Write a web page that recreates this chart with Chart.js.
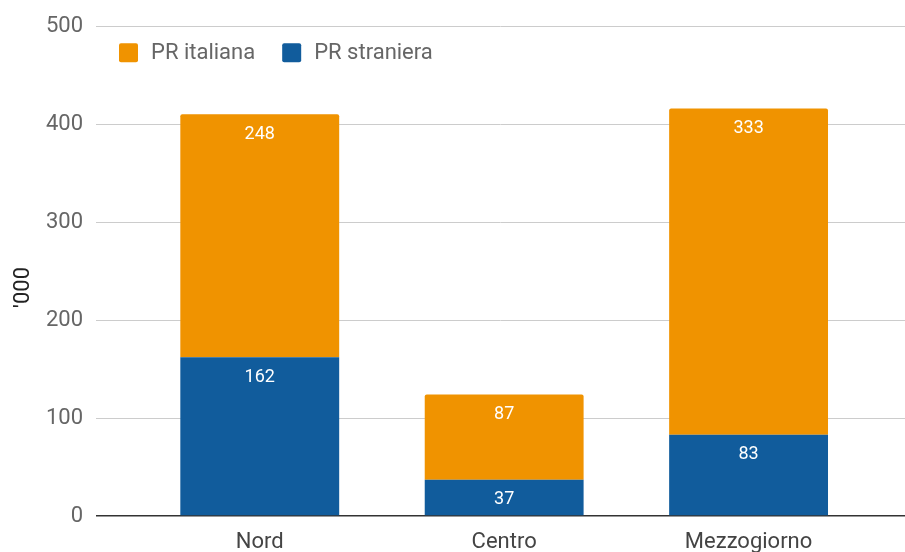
<!DOCTYPE html>
<html>
<head>
<meta charset="utf-8">
<script src="https://cdn.jsdelivr.net/npm/chart.js@4.4.0/dist/chart.umd.min.js"></script>
<style>
  body { margin: 0; background: #fff; }
  #wrap { width: 905px; height: 552px; }
</style>
</head>
<body>
<div id="wrap"><canvas id="chart" width="905" height="552"></canvas></div>
<script>
// values in thousands
const categories = ["Nord", "Centro", "Mezzogiorno"];
const prStraniera = [162, 37, 83];
const prItaliana = [248, 87, 333];
const legendOrder = ["PR italiana", "PR straniera"];
const yMax = 500;
const yStep = 100;

// bars sit on a linear x scale so the plot can extend past the outer categories
const toPoints = (arr) => arr.map((v, i) => ({ x: i, y: v }));

const segmentLabels = {
  id: "segmentLabels",
  afterDatasetsDraw(chart) {
    const ctx = chart.ctx;
    ctx.save();
    ctx.fillStyle = "#fff";
    ctx.font = "18px Roboto";
    ctx.textAlign = "center";
    ctx.textBaseline = "middle";
    chart.data.datasets.forEach((ds, di) => {
      chart.getDatasetMeta(di).data.forEach((bar, i) => {
        ctx.fillText(ds.data[i].y, bar.x, bar.y + 20);
      });
    });
    ctx.restore();
  }
};

// legend drawn inside the plot, one row, like the original
const insideLegend = {
  id: "insideLegend",
  afterDraw(chart) {
    const ctx = chart.ctx;
    const area = chart.chartArea;
    ctx.save();
    ctx.font = "22px Roboto";
    ctx.textBaseline = "middle";
    ctx.textAlign = "left";
    let x = area.left + 23;
    const y = area.top + 17;
    legendOrder.forEach((name) => {
      const ds = chart.data.datasets.find((d) => d.label === name);
      ctx.fillStyle = ds.backgroundColor;
      ctx.beginPath();
      ctx.roundRect(x, y, 19, 19, 2);
      ctx.fill();
      ctx.fillStyle = "#666";
      ctx.fillText(name, x + 32, y + 10);
      x += 32 + ctx.measureText(name).width + 27;
    });
    ctx.restore();
  }
};

const ctx = document.getElementById("chart").getContext("2d");
new Chart(ctx, {
  type: "bar",
  data: {
    datasets: [
      {
        label: "PR straniera",
        data: toPoints(prStraniera),
        backgroundColor: "#115c9c",
        borderRadius: 2,
      },
      {
        label: "PR italiana",
        data: toPoints(prItaliana),
        backgroundColor: "#f09300",
        borderRadius: 2,
      },
    ],
  },
  options: {
    responsive: false,
    animation: false,
    layout: { padding: { top: 24, right: 0, left: 0, bottom: 0 } },
    datasets: { bar: { categoryPercentage: 1, barPercentage: 0.65 } },
    scales: {
      x: {
        type: "linear",
        stacked: true,
        offset: false,
        min: -0.67,
        max: 2.64,
        afterBuildTicks: (scale) => {
          scale.ticks = categories.map((c, i) => ({ value: i }));
        },
        afterFit: (scale) => { scale.height = 36; },
        grid: { display: false },
        border: { display: false },
        ticks: {
          callback: (v) => categories[v],
          color: "#444",
          font: { family: "Roboto", size: 22 },
          padding: 5,
          maxRotation: 0,
        },
      },
      y: {
        stacked: true,
        min: 0,
        max: yMax,
        afterFit: (scale) => { scale.width = 96; },
        ticks: {
          stepSize: yStep,
          color: "#666",
          font: { family: "Roboto", size: 22 },
          padding: 13,
        },
        grid: {
          drawTicks: false,
          color: (c) => (c.tick && c.tick.value === 0 ? "#333" : "#ccc"),
          lineWidth: (c) => (c.tick && c.tick.value === 0 ? 1.5 : 1),
        },
        border: { display: false },
        title: {
          display: true,
          text: "'000      ",
          color: "#222",
          font: { family: "Roboto", size: 22 },
          padding: { top: 10, bottom: 0 },
        },
      },
    },
    plugins: {
      legend: { display: false },
      tooltip: { enabled: false },
    },
  },
  plugins: [segmentLabels, insideLegend],
});
</script>
</body>
</html>
